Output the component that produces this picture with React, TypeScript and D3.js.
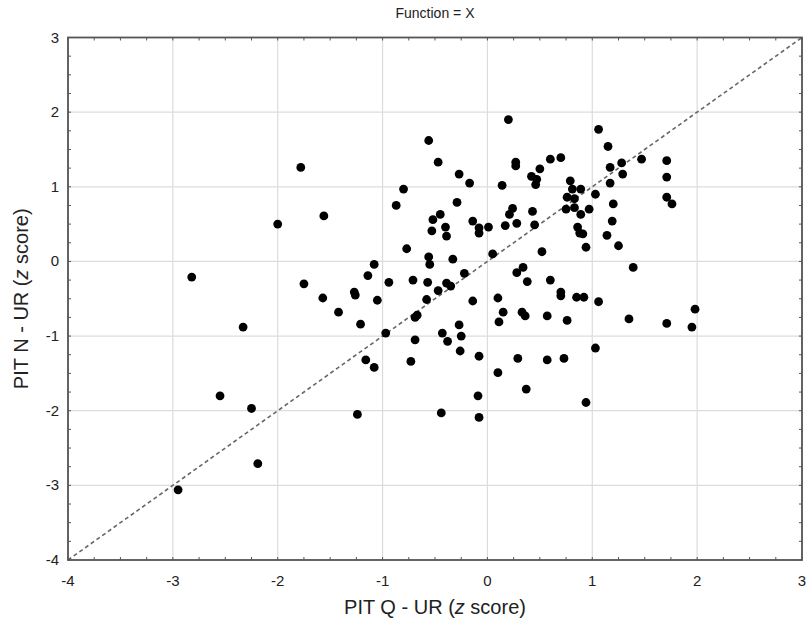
import * as d3 from 'd3';

// PIT Q - UR (x) vs PIT N - UR (y), z scores
const xValues = [
  -2.82, -2.33, -2.55, -2.25, -2.19, -2.95, -2.0, -1.78,
  0.2, -0.56, -0.47, 0.27, 0.27, -0.27, -0.17, 0.14, -0.8, -0.29, -0.87, 0.24,
  0.21, -0.45, -0.52, -1.56, -0.4, -0.14, -0.08, -0.08, 0.01, 0.17, 0.28, -0.53,
  -0.39, -0.77, 0.05, -0.56, -0.55, -0.33, -1.08, -1.14, -0.22, 0.28, -1.75, -0.94,
  -0.71, -0.57, -0.39, -0.35, -0.47, -1.27, -1.26, -1.57, -1.05, -0.58, -0.14, 0.1,
  0.15, 0.11, 0.33, 0.36, -1.42, -1.21, -0.97, -0.69, -0.67, -0.69, -0.43, -0.38,
  -0.27, -0.25, -0.26, -0.08, 0.29, 0.1, -1.16, -1.08, -0.73, -0.09, -1.24, -0.44, -0.08,
  0.7, 0.7, 0.85, 0.92, 1.06, 0.57, 0.76, 1.35, 1.71, 1.98, 1.95, 1.03, 0.57, 0.73, 0.37, 0.94,
  1.06, 1.15, 0.6, 0.7, 0.5, 1.17, 1.28, 1.29, 1.47, 1.71, 1.71, 1.71, 1.76, 0.42,
  0.47, 0.46, 0.79, 0.81, 0.89, 1.17, 0.76, 0.83, 1.03, 0.75, 0.83, 0.97, 1.2, 0.89,
  0.43, 0.45, 1.19, 0.86, 0.88, 0.91, 1.14, 0.94, 1.25, 0.52, 1.39, 0.34, 0.38, 0.6,
];
const yValues = [
  -0.21, -0.88, -1.8, -1.97, -2.71, -3.06, 0.5, 1.26,
  1.9, 1.62, 1.33, 1.33, 1.28, 1.17, 1.05, 1.02, 0.97, 0.79, 0.75, 0.71,
  0.63, 0.63, 0.56, 0.61, 0.46, 0.54, 0.45, 0.38, 0.46, 0.48, 0.51, 0.41,
  0.34, 0.17, 0.1, 0.06, -0.04, 0.03, -0.04, -0.19, -0.16, -0.15, -0.3, -0.28,
  -0.25, -0.28, -0.29, -0.33, -0.39, -0.41, -0.45, -0.49, -0.52, -0.51, -0.53, -0.49,
  -0.68, -0.81, -0.68, -0.73, -0.68, -0.84, -0.96, -0.75, -0.72, -1.05, -0.96, -1.07,
  -0.85, -1.0, -1.2, -1.27, -1.3, -1.49, -1.32, -1.42, -1.34, -1.8, -2.05, -2.03, -2.09,
  -0.46, -0.41, -0.48, -0.48, -0.54, -0.73, -0.79, -0.77, -0.83, -0.64, -0.88, -1.16, -1.32, -1.3, -1.71, -1.89,
  1.77, 1.54, 1.37, 1.39, 1.24, 1.26, 1.32, 1.17, 1.37, 1.35, 1.13, 0.86, 0.77, 1.14,
  1.1, 1.03, 1.08, 0.97, 0.97, 1.05, 0.86, 0.84, 0.9, 0.7, 0.72, 0.7, 0.77, 0.63,
  0.67, 0.49, 0.54, 0.46, 0.38, 0.37, 0.35, 0.19, 0.21, 0.13, -0.08, -0.08, -0.27, -0.25,
];

const majorTicks = [-4, -3, -2, -1, 0, 1, 2, 3];
const title = 'Function = X';

const W = 806;
const H = 622;
const FONT = '"Liberation Sans", Arial, sans-serif';

export default function App() {
  const x = d3.scaleLinear().domain([-4, 3]).range([68, 802]);
  const y = d3.scaleLinear().domain([-4, 3]).range([560, 37.5]);
  const minor = d3.range(-4, 3.001, 0.25);
  const [x0, x1] = x.range();
  const [y0, y1] = y.range();
  const diag = d3.line<number>().x((d) => x(d)).y((d) => y(d));

  return (
    <div style={{ position: 'absolute', left: 0, top: 0 }}>
      <svg width={W} height={H} style={{ display: 'block', background: '#fff' }} fontFamily={FONT}>
        {/* grid */}
        {majorTicks.map((t) => (
          <g key={`g${t}`}>
            <line x1={x(t)} x2={x(t)} y1={y1} y2={y0} stroke="#dcdcdc" strokeWidth={1.2} />
            <line x1={x0} x2={x1} y1={y(t)} y2={y(t)} stroke="#dcdcdc" strokeWidth={1.2} />
          </g>
        ))}

        {/* identity line */}
        <path d={diag([-4, 3]) || ''} fill="none" stroke="#666" strokeWidth={1.6} strokeDasharray="4,3" />

        {/* points */}
        {xValues.map((v, i) => (
          <circle key={i} cx={x(v)} cy={y(yValues[i])} r={4.4} fill="#000" />
        ))}

        {/* minor ticks inside frame */}
        {minor.map((t) => (
          <g key={`m${t}`} stroke="#555" strokeWidth={1}>
            <line x1={x(t)} x2={x(t)} y1={y0} y2={y0 - 3} />
            <line x1={x(t)} x2={x(t)} y1={y1} y2={y1 + 3} />
            <line x1={x0} x2={x0 + 3} y1={y(t)} y2={y(t)} />
            <line x1={x1} x2={x1 - 3} y1={y(t)} y2={y(t)} />
          </g>
        ))}

        {/* frame */}
        <rect x={x0} y={y1} width={x1 - x0} height={y0 - y1} fill="none" stroke="#555" strokeWidth={1.8} />

        {/* tick labels */}
        {majorTicks.map((t) => (
          <text key={`xl${t}`} x={x(t)} y={y0 + 26} textAnchor="middle" fontSize={15} fill="#222">
            {t}
          </text>
        ))}
        {majorTicks.map((t) => (
          <text key={`yl${t}`} x={x0 - 9} y={y(t) + 5} textAnchor="end" fontSize={15} fill="#222">
            {t}
          </text>
        ))}

        {/* title */}
        <text x={(x0 + x1) / 2} y={18} textAnchor="middle" fontSize={14} fill="#222">
          {title}
        </text>

        {/* axis titles */}
        <text x={(x0 + x1) / 2} y={614} textAnchor="middle" fontSize={20} fill="#222">
          PIT Q - UR (<tspan fontStyle="italic">z</tspan> score)
        </text>
        <text
          transform={`translate(28,${(y0 + y1) / 2}) rotate(-90)`}
          textAnchor="middle"
          fontSize={20}
          fill="#222"
        >
          PIT N - UR (<tspan fontStyle="italic">z</tspan> score)
        </text>
      </svg>
    </div>
  );
}
